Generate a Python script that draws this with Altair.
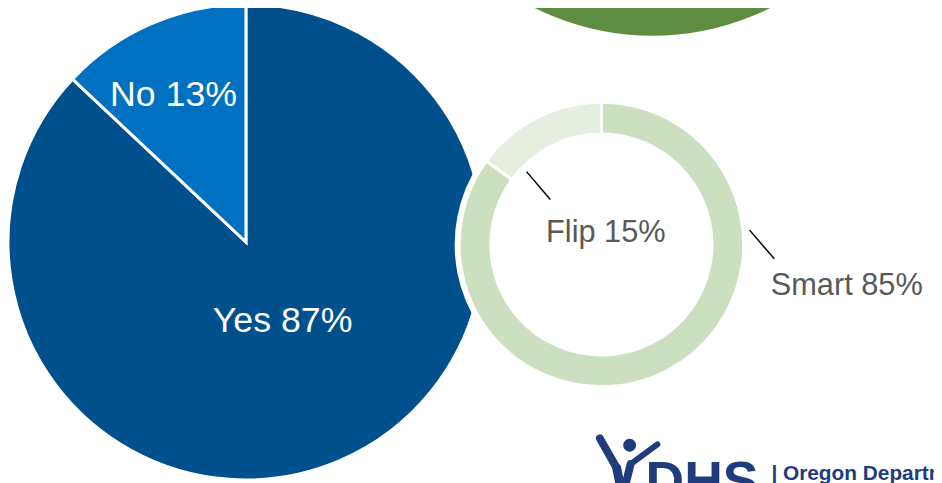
import math
import altair as alt
import pandas as pd

# ---- data ----
pie_labels = ["Yes", "No"]
pie_values = [87, 13]
donut_labels = ["Smart", "Flip"]
donut_values = [85, 15]
pie_texts = ["Yes 87%", "No 13%"]
donut_texts = ["Smart 85%", "Flip 15%"]
logo_texts = ["DHS", "| Oregon Department of Human Services"]

# ---- styles ----
pie_colors = ["#00508D", "#0070C0"]
donut_colors = ["#CCE0C0", "#E6EFDF"]
top_green = "#5E8C40"
navy = "#1F3C7D"
FONT = "Liberation Sans"
OX, OY = 8, 8  # page margin offset
TWO_PI = 2 * math.pi

def P(x, y):
    return dict(x=alt.value(x - OX), y=alt.value(y - OY))

one = pd.DataFrame({"k": [0]})

# big green circle at the top (partially visible)
green = alt.Chart(one).mark_arc(radius=265, theta=0, theta2=TWO_PI, color=top_green).encode(**P(658, -231))

# left pie
pie_df = pd.DataFrame({"label": pie_labels, "value": pie_values, "ord": list(range(len(pie_labels)))})
pie = alt.Chart(pie_df).mark_arc(radius=240, stroke="white", strokeWidth=3).encode(
    theta=alt.Theta("value:Q", stack=True),
    color=alt.Color("label:N", scale=alt.Scale(domain=pie_labels, range=pie_colors), legend=None),
    order=alt.Order("ord:Q"),
    **P(248, 242),
)

# white ring behind donut
ring = alt.Chart(one).mark_arc(radius=148, theta=0, theta2=TWO_PI, color="white").encode(**P(606.5, 244.5))

# donut
donut_df = pd.DataFrame({"label": donut_labels, "value": donut_values, "ord": list(range(len(donut_labels)))})
donut = alt.Chart(donut_df).mark_arc(radius=143.5, radius2=111.5, stroke="white", strokeWidth=3).encode(
    theta=alt.Theta("value:Q", stack=True),
    color=alt.Color("label:N", scale=alt.Scale(domain=donut_labels, range=donut_colors), legend=None),
    order=alt.Order("ord:Q"),
    **P(606.5, 244.5),
)

def label(text, x, y, color, size, weight="normal", align="center"):
    return alt.Chart(pd.DataFrame({"t": [text]})).mark_text(
        font=FONT, fontSize=size, fontWeight=weight, color=color, align=align, baseline="alphabetic"
    ).encode(text="t:N", **P(x, y))

yes_lbl = label(pie_texts[0], 285, 333, "white", 36)
no_lbl = label(pie_texts[1], 175, 105, "white", 36)
flip_lbl = label(donut_texts[1], 611, 242, "#595959", 31)
smart_lbl = label(donut_texts[0], 854, 295, "#595959", 31)

def seg(x1, y1, x2, y2, color="black", w=1.5, cap="butt"):
    return alt.Chart(one).mark_rule(color=color, strokeWidth=w, strokeCap=cap).encode(
        x=alt.value(x1 - OX), y=alt.value(y1 - OY), x2=alt.value(x2 - OX), y2=alt.value(y2 - OY)
    )

flip_line = seg(531, 171, 555, 199)
smart_line = seg(756, 230, 781, 259)

# logo
head = alt.Chart(one).mark_circle(size=170, color=navy, opacity=1).encode(**P(635, 447))
arm_l = seg(605, 440, 622, 470, color=navy, w=8, cap="round")
stem = seg(622, 470, 626, 490, color=navy, w=9, cap="round")
arm_r = seg(663, 446, 636, 466, color=navy, w=6, cap="round")
body = seg(636, 466, 630, 490, color=navy, w=8, cap="round")
dhs = label(logo_texts[0], 651, 501, navy, 54, weight="bold", align="left")
dept = label(logo_texts[1], 778, 482, navy, 21, weight="bold", align="left")

chart = alt.layer(
    green, pie, ring, donut, yes_lbl, no_lbl, flip_lbl, smart_lbl, flip_line, smart_line,
    head, arm_l, stem, arm_r, body, dhs, dept,
).resolve_scale(color="independent", theta="independent").properties(
    width=934, height=475, autosize=alt.AutoSizeParams(type="none"), padding=0
).configure_view(stroke=None)

chart.save("out.html", embed_options={"renderer": "svg", "actions": False})
